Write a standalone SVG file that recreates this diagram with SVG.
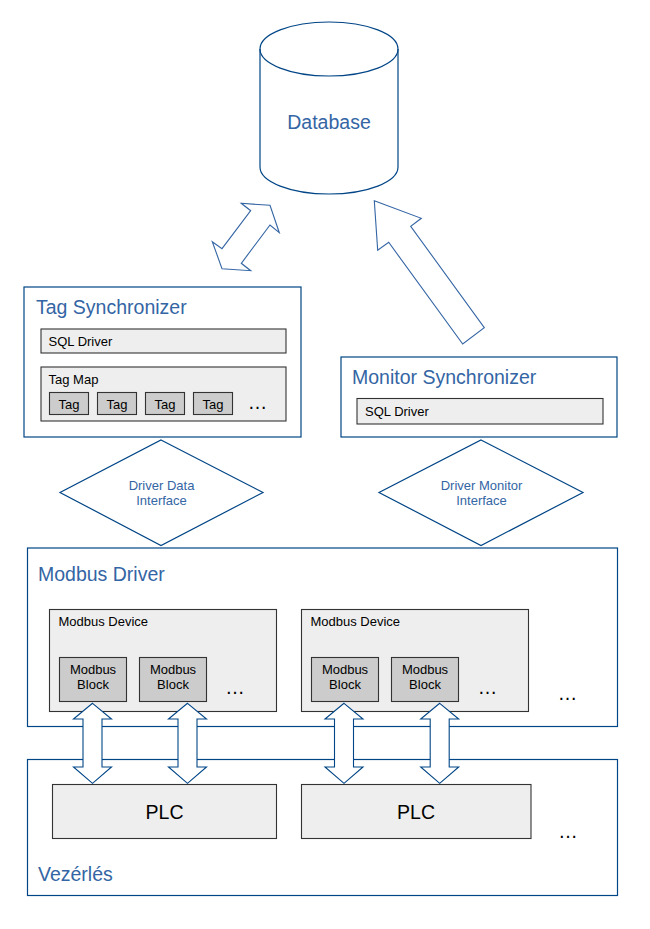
<svg xmlns="http://www.w3.org/2000/svg" width="650" height="929" viewBox="0 0 650 929">
<style>
.outer{fill:#ffffff;stroke:#004586;stroke-width:1.2}
.inner{fill:#eeeeee;stroke:#333333;stroke-width:1.1}
.block{fill:#cccccc;stroke:#333333;stroke-width:1.1}
.title{font-family:"Liberation Sans",Arial,sans-serif;font-size:19.5px;fill:#3465a4}
.lbl{font-family:"Liberation Sans",Arial,sans-serif;font-size:13px;fill:#000000}
.big{font-family:"Liberation Sans",Arial,sans-serif;font-size:19.5px;fill:#000000}
.dots{font-family:"Liberation Sans",Arial,sans-serif;font-size:19.5px;fill:#000000;text-anchor:middle}
.iface{font-family:"Liberation Sans",Arial,sans-serif;font-size:13px;fill:#3465a4;text-anchor:middle}
.arr{fill:#ffffff;stroke:#004586;stroke-width:1.1;stroke-linejoin:miter}
.arrl{fill:#ffffff;stroke:#3465a4;stroke-width:1.1}
</style>
<rect width="650" height="929" fill="#ffffff"/>

<g id="database">
<path class="outer" d="M260,49 A69,27 0 0 1 398,49 V167 A69,27 0 0 1 260,167 Z"/>
<path fill="none" stroke="#004586" stroke-width="1.2" d="M260,49 A69,27 0 0 0 398,49"/>
<text class="title" x="329" y="129" text-anchor="middle">Database</text>
</g>

<g id="tag-synchronizer">
<rect class="outer" x="24" y="287" width="277" height="150"/>
<text class="title" x="36" y="314">Tag Synchronizer</text>
<rect class="inner" x="41" y="329" width="245" height="24"/>
<text class="lbl" x="48.5" y="345.5">SQL Driver</text>
<rect class="inner" x="41" y="367" width="245" height="54"/>
<text class="lbl" x="48.5" y="383.5">Tag Map</text>
<rect class="block" x="49.5" y="392.5" width="39" height="22"/>
<text class="lbl" x="69" y="408.5" text-anchor="middle">Tag</text>
<rect class="block" x="97.5" y="392.5" width="39" height="22"/>
<text class="lbl" x="117" y="408.5" text-anchor="middle">Tag</text>
<rect class="block" x="145.5" y="392.5" width="39" height="22"/>
<text class="lbl" x="165" y="408.5" text-anchor="middle">Tag</text>
<rect class="block" x="193.5" y="392.5" width="39" height="22"/>
<text class="lbl" x="213" y="408.5" text-anchor="middle">Tag</text>
<text class="dots" x="257.5" y="408.5">…</text>
</g>

<g id="monitor-synchronizer">
<rect class="outer" x="341" y="357" width="276" height="80"/>
<text class="title" x="352" y="384">Monitor Synchronizer</text>
<rect class="inner" x="357" y="398.5" width="246" height="25.5"/>
<text class="lbl" x="365" y="415.5">SQL Driver</text>
</g>

<g id="driver-data-interface">
<polygon class="outer" points="161,440 263,492.5 161,545.5 60,492.5"/>
<text class="iface" x="161.5" y="490">Driver Data</text>
<text class="iface" x="161.5" y="505">Interface</text>
</g>

<g id="driver-monitor-interface">
<polygon class="outer" points="481,440 583,492.5 481,545.5 379,492.5"/>
<text class="iface" x="481.5" y="490">Driver Monitor</text>
<text class="iface" x="481.5" y="505">Interface</text>
</g>

<g id="modbus-driver">
<rect class="outer" x="27.5" y="548" width="590" height="178.5"/>
<text class="title" x="38" y="581">Modbus Driver</text>
<text class="dots" x="567.5" y="700">…</text>
</g>

<g id="modbus-device-1">
<rect class="inner" x="49.5" y="609.5" width="227" height="102"/>
<text class="lbl" x="58.5" y="626">Modbus Device</text>
<rect class="block" x="59.5" y="657.5" width="67" height="44"/>
<text class="lbl" x="93" y="674" text-anchor="middle">Modbus</text>
<text class="lbl" x="93" y="689" text-anchor="middle">Block</text>
<rect class="block" x="139.5" y="657.5" width="67" height="44"/>
<text class="lbl" x="173" y="674" text-anchor="middle">Modbus</text>
<text class="lbl" x="173" y="689" text-anchor="middle">Block</text>
<text class="dots" x="235" y="694">…</text>
</g>

<g id="modbus-device-2">
<rect class="inner" x="301.5" y="609.5" width="227" height="102"/>
<text class="lbl" x="310.5" y="626">Modbus Device</text>
<rect class="block" x="311.5" y="657.5" width="67" height="44"/>
<text class="lbl" x="345" y="674" text-anchor="middle">Modbus</text>
<text class="lbl" x="345" y="689" text-anchor="middle">Block</text>
<rect class="block" x="391.5" y="657.5" width="67" height="44"/>
<text class="lbl" x="425" y="674" text-anchor="middle">Modbus</text>
<text class="lbl" x="425" y="689" text-anchor="middle">Block</text>
<text class="dots" x="487.5" y="694">…</text>
</g>

<g id="vezerles">
<rect class="outer" x="27.5" y="759.5" width="590" height="136"/>
<text class="title" x="38" y="881">Vezérlés</text>
<text class="dots" x="568" y="838">…</text>
</g>

<g id="plc-1">
<rect class="inner" x="52.5" y="784.5" width="224" height="54"/>
<text class="big" x="164.5" y="818.5" text-anchor="middle">PLC</text>
</g>

<g id="plc-2">
<rect class="inner" x="301.5" y="784.5" width="229.5" height="54"/>
<text class="big" x="416" y="818.5" text-anchor="middle">PLC</text>
</g>

<g id="connectors">
<polygon class="arrl" points="241.3,203.3 270,205.3 279.3,232.7 270,225 241.3,263.3 250.7,270.7 222,268.7 212.3,241.7 222,248.7 250.7,210.7"/>
<polygon class="arrl" points="374.3,200.7 421.3,218.3 410.7,226.3 484.3,327.7 462.7,344 388.7,242.3 377.7,250.3"/>
<polygon class="arr" points="92.5,703.3 111.5,719 102,719 102,767 111.5,767 92.5,783.3 73.5,767 83,767 83,719 73.5,719"/>
<polygon class="arr" points="187.5,703.3 206.5,719 197,719 197,767 206.5,767 187.5,783.3 168.5,767 178,767 178,719 168.5,719"/>
<polygon class="arr" points="344,703.3 363,719 353.5,719 353.5,767 363,767 344,783.3 325,767 334.5,767 334.5,719 325,719"/>
<polygon class="arr" points="439.7,703.3 458.7,719 449.2,719 449.2,767 458.7,767 439.7,783.3 420.7,767 430.2,767 430.2,719 420.7,719"/>
</g>
</svg>
